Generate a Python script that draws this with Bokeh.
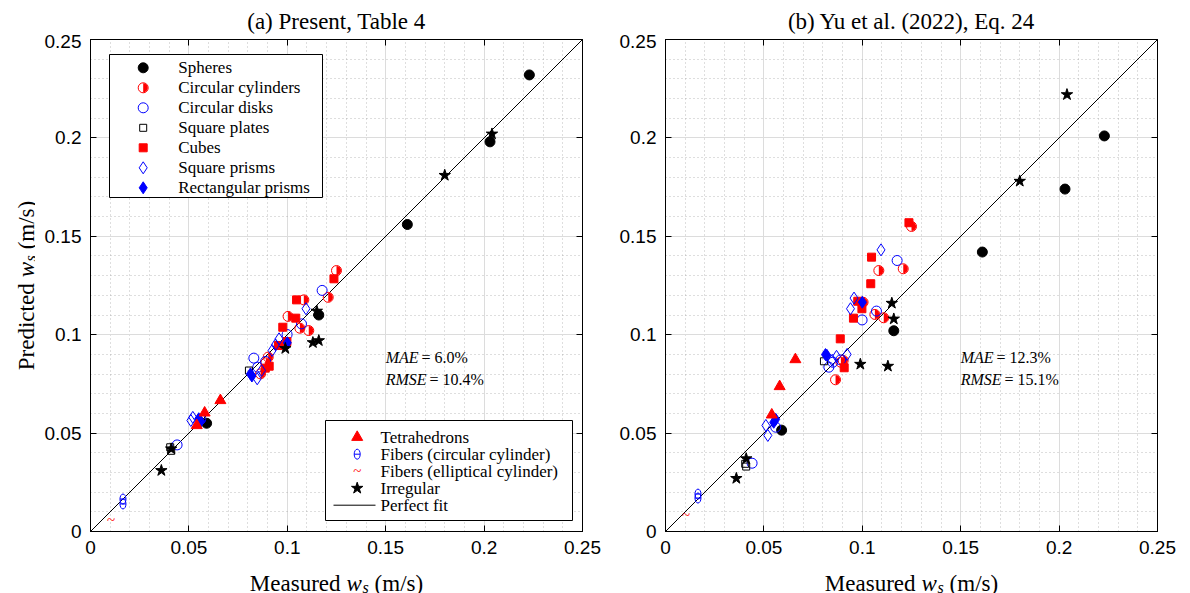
import math
from bokeh.plotting import figure
from bokeh.models import (Label, LinearAxis, SingleIntervalTicker, CustomJSTickFormatter,
                          Range1d, Grid)
from bokeh.layouts import row, column
from bokeh.embed import file_html
from bokeh.resources import INLINE

# ---------------- data (measured x, predicted y) ----------------
sph_x = [0.223, 0.203, 0.161, 0.116, 0.059]
sph_ya = [0.232, 0.198, 0.156, 0.110, 0.055]
sph_yb = [0.201, 0.174, 0.142, 0.102, 0.0515]

cyl_x = [0.125, 0.1208, 0.1109, 0.1084, 0.1064, 0.1004, 0.0903, 0.0891, 0.0864]
cyl_ya = [0.1326, 0.119, 0.1021, 0.1177, 0.1033, 0.1093, 0.0886, 0.0857, 0.0801]
cyl_yb = [0.155, 0.1335, 0.1086, 0.1326, 0.1103, 0.1165, 0.0869, 0.0860, 0.0771]

disk_x = [0.1177, 0.1072, 0.0999, 0.0830, 0.0890, 0.0850, 0.0440, 0.0560]
disk_ya = [0.1225, 0.1055, 0.1001, 0.0881, 0.0864, 0.0835, 0.0440, 0.0570]
disk_yb = [0.1377, 0.1120, 0.1075, 0.0835, 0.0872, 0.0860, 0.0347, 0.0530]

plate_x = [0.0805, 0.0405, 0.0410]
plate_ya = [0.0818, 0.0428, 0.0410]
plate_yb = [0.0865, 0.0344, 0.0330]

cube_x = [0.1237, 0.1047, 0.1043, 0.0998, 0.0977, 0.0955, 0.0888, 0.0908]
cube_ya = [0.1284, 0.1177, 0.1084, 0.0965, 0.1038, 0.0945, 0.0830, 0.0840]
cube_yb = [0.1569, 0.1394, 0.1259, 0.1132, 0.1170, 0.1084, 0.0979, 0.0832]

sqp_x = [0.1095, 0.0958, 0.0940, 0.0923, 0.0869, 0.0847, 0.0510, 0.0520]
sqp_ya = [0.1132, 0.0979, 0.0949, 0.0920, 0.0818, 0.0776, 0.0564, 0.0580]
sqp_yb = [0.1431, 0.1186, 0.1132, 0.0900, 0.0890, 0.0870, 0.0539, 0.0488]

rp_x = [0.1000, 0.0813, 0.0820, 0.0550, 0.0560]
rp_ya = [0.0959, 0.0801, 0.0790, 0.0573, 0.0560]
rp_yb = [0.1165, 0.0899, 0.0895, 0.0555, 0.0570]

tet_x = [0.066, 0.058, 0.054]
tet_ya = [0.0666, 0.0603, 0.0539]
tet_yb = [0.0874, 0.0737, 0.0593]

fc_x = [0.0165, 0.0165]
fc_ya = [0.0165, 0.0140]
fc_yb = [0.0190, 0.0170]

fe_x = [0.0105]
fe_ya = [0.0059]
fe_yb = [0.0085]

irr_x = [0.204, 0.180, 0.115, 0.116, 0.113, 0.099, 0.041, 0.036]
irr_ya = [0.202, 0.181, 0.112, 0.097, 0.096, 0.093, 0.042, 0.031]
irr_yb = [0.222, 0.178, 0.116, 0.108, 0.084, 0.085, 0.037, 0.027]

fit_x = [0.0, 0.25]

titles = ["(a) Present, Table 4", "(b) Yu et al. (2022), Eq. 24"]
mae_vals = ["6.0%", "12.3%"]
rmse_vals = ["10.4%", "15.1%"]

legend1 = [("Spheres", "sph"), ("Circular cylinders", "cyl"), ("Circular disks", "disk"),
           ("Square plates", "plate"), ("Cubes", "cube"), ("Square prisms", "sqp"),
           ("Rectangular prisms", "rp")]
legend2 = [("Tetrahedrons", "tet"), ("Fibers (circular cylinder)", "fc"),
           ("Fibers (elliptical cylinder)", "fe"), ("Irregular", "irr"), ("Perfect fit", "line")]

# ---------------- style ----------------
RED = "#ff0000"
BLUE = "#0000ff"
BLACK = "#000000"
SERIF = "Liberation Serif"
SANS = "Liberation Sans"
FRAME = 492
SC = 0.25 / FRAME  # data units per pixel

H_TITLE = 34
H_XLAB = 32
W_YLAB = 35
B_TOP = 5
B_BOT = 30
P1_LEFT, P1_RIGHT = 55, 20
P2_LEFT, P2_RIGHT = 63, 33
LAB_SIZE = 23

ROMAN = {' ': 250, '(': 333, ')': 333, '/': 278, '%': 833, '.': 250, ',': 250, '=': 564,
         'M': 889, 'P': 556, 'a': 444, 'c': 444, 'd': 500, 'e': 444, 'i': 278, 'm': 778,
         'r': 333, 's': 389, 't': 278, 'u': 500}
ITAL = {'w': 667, 's': 389, 'M': 833, 'A': 611, 'E': 611, 'R': 611, 'S': 500}


def tw(text, italic, size):
    table = ITAL if italic else ROMAN
    return sum(table.get(c, 500) for c in text) * size / 1000.0


def text_fig(fw, fh, bl=0, br=0, bt=0, bb=0):
    f = figure(title=None, frame_width=fw, frame_height=fh, x_range=Range1d(0, fw),
               y_range=Range1d(0, fh), x_axis_type=None, y_axis_type=None,
               output_backend="svg", toolbar_location=None,
               min_border_left=bl, min_border_right=br, min_border_top=bt, min_border_bottom=bb)
    f.outline_line_color = None
    f.background_fill_color = "white"
    f.border_fill_color = "white"
    return f


def rich_label(f, pieces, cx, cy, angle=0.0):
    # pieces: (text, italic, size, lowered_px, gap_before_px)
    total = sum(tw(t, it, sz) + gap for t, it, sz, lw, gap in pieces)
    pos = -total / 2.0
    for t, it, sz, lw, gap in pieces:
        pos += gap
        if angle == 0.0:
            x, y = cx + pos, cy - lw
        else:
            x, y = cx + lw, cy + pos
        f.add_layout(Label(x=x, y=y, text=t, text_font=SERIF,
                           text_font_style="italic" if it else "normal",
                           text_font_size=f"{sz}px", text_baseline="alphabetic",
                           text_align="left", angle=angle, text_color=BLACK))
        pos += tw(t, it, sz)


def label_pieces(word):
    s = LAB_SIZE
    return [(word, False, s, 0, 0), ("w", True, s, 0, 0.26 * s),
            ("s", True, round(s * 0.7), 4, 0.5), ("(m/s)", False, s, 0, 0.26 * s)]


def draw(p, kind, xs, ys):
    if kind == "sph":
        p.scatter(xs, ys, marker="circle", size=10, fill_color=BLACK, line_color=BLACK)
    elif kind == "cyl":
        p.wedge(xs, ys, radius=4.6, radius_units="screen", start_angle=-math.pi / 2,
                end_angle=math.pi / 2, fill_color=RED, line_color=None)
        p.scatter(xs, ys, marker="circle", size=10, fill_color=None, line_color=RED, line_width=1)
    elif kind == "disk":
        p.scatter(xs, ys, marker="circle", size=10, fill_color=None, line_color=BLUE, line_width=1)
    elif kind == "plate":
        p.scatter(xs, ys, marker="square", size=7, fill_color=None, line_color=BLACK, line_width=1)
    elif kind == "cube":
        p.scatter(xs, ys, marker="square", size=8, fill_color=RED, line_color=RED)
    elif kind == "sqp":
        p.scatter(xs, ys, marker="diamond", size=12, fill_color=None, line_color=BLUE, line_width=1)
    elif kind == "rp":
        p.scatter(xs, ys, marker="diamond", size=12, fill_color=BLUE, line_color=BLUE)
    elif kind == "tet":
        p.scatter(xs, ys, marker="triangle", size=11, fill_color=RED, line_color=RED)
    elif kind == "fc":
        p.ellipse(xs, ys, width=6, height=10, width_units="screen", height_units="screen",
                  fill_color=None, line_color=BLUE, line_width=1)
        p.scatter(xs, ys, marker="dash", size=6, line_color=BLUE, line_width=1)
    elif kind == "fe":
        p.text(xs, ys, text=["~"] * len(xs), text_color=RED, text_font_size="15px",
               text_align="center", text_baseline="middle", text_font=SERIF)
    elif kind == "irr":
        p.scatter(xs, ys, marker="star", size=12, fill_color=BLACK, line_color=BLACK)


def legend_box(p, entries, left, top, right, bottom, row0, dy, mx, tx, lx0=0, lx1=0):
    p.quad(left=[left * SC], right=[right * SC], top=[0.25 - top * SC], bottom=[0.25 - bottom * SC],
           fill_color="white", line_color=BLACK, line_width=1)
    for i, (lab, kind) in enumerate(entries):
        yy = 0.25 - (row0 + i * dy) * SC
        if kind == "line":
            p.line([lx0 * SC, lx1 * SC], [yy, yy], line_color=BLACK, line_width=1)
        else:
            draw(p, kind, [mx * SC], [yy])
        p.add_layout(Label(x=tx * SC, y=yy, text=lab, text_font=SERIF, text_font_size="17px",
                           text_baseline="middle", text_align="left", text_color=BLACK))


def make_panel(idx, ys, border_left, border_right):
    p = figure(title=None, frame_width=FRAME, frame_height=FRAME, x_range=Range1d(0, 0.25),
               y_range=Range1d(0, 0.25), output_backend="svg", toolbar_location=None,
               x_axis_type=None, y_axis_type=None,
               min_border_left=border_left, min_border_right=border_right,
               min_border_top=B_TOP, min_border_bottom=B_BOT)
    p.outline_line_color = BLACK
    p.outline_line_alpha = 1.0
    p.outline_line_width = 1
    p.background_fill_color = "white"
    p.border_fill_color = "white"

    fmt = CustomJSTickFormatter(code="var s = tick.toFixed(2); s = s.replace(/0+$/, ''); "
                                     "s = s.replace(/\\.$/, ''); return s;")
    for dim in (0, 1):
        tk = SingleIntervalTicker(interval=0.05, num_minor_ticks=5)
        g = Grid(dimension=dim, ticker=tk, grid_line_color="#dcdcdc", grid_line_width=1,
                 minor_grid_line_color="#a0a0a0", minor_grid_line_dash="1 3",
                 minor_grid_line_alpha=0.7)
        p.add_layout(g, "center")
    for place in ("below", "left", "above", "right"):
        tk = SingleIntervalTicker(interval=0.05, num_minor_ticks=5)
        ax = LinearAxis(ticker=tk, formatter=fmt)
        ax.major_tick_in = 6
        ax.major_tick_out = 0
        ax.minor_tick_line_color = None
        ax.axis_line_color = BLACK
        ax.major_tick_line_color = BLACK
        ax.major_label_text_font = SANS
        if place in ("below", "left"):
            ax.major_label_text_font_size = "19px"
            ax.major_label_standoff = 5
            ax.major_label_text_color = BLACK
        else:
            ax.major_label_text_font_size = "1px"
            ax.major_label_text_alpha = 0
            ax.major_label_standoff = 0
        p.add_layout(ax, place)

    p.line(fit_x, fit_x, line_color=BLACK, line_width=1)

    draw(p, "sph", sph_x, ys["sph"])
    draw(p, "cyl", cyl_x, ys["cyl"])
    draw(p, "disk", disk_x, ys["disk"])
    draw(p, "plate", plate_x, ys["plate"])
    draw(p, "cube", cube_x, ys["cube"])
    draw(p, "sqp", sqp_x, ys["sqp"])
    draw(p, "rp", rp_x, ys["rp"])
    draw(p, "tet", tet_x, ys["tet"])
    draw(p, "fc", fc_x, ys["fc"])
    draw(p, "fe", fe_x, ys["fe"])
    draw(p, "irr", irr_x, ys["irr"])

    # error annotations
    for j, (nm, val) in enumerate((("MAE", mae_vals[idx]), ("RMSE", rmse_vals[idx]))):
        yy = 0.0885 - j * 0.0112
        p.add_layout(Label(x=0.15, y=yy, text=nm, text_font=SERIF, text_font_style="italic",
                           text_font_size="16px", text_baseline="middle", text_color=BLACK))
        p.add_layout(Label(x=0.15, y=yy, x_offset=tw(nm, True, 16) + 3, text="= " + val,
                           text_font=SERIF, text_font_size="16px", text_baseline="middle",
                           text_color=BLACK))

    if idx == 0:
        legend_box(p, legend1, 19, 15, 232, 158, 28.3, 20.0, 52.7, 87.7)
        legend_box(p, legend2, 235, 381, 482, 481, 397.7, 17.0, 266.7, 290, 243, 285)
    return p


def panel_column(idx, ys, bl, br):
    p = make_panel(idx, ys, bl, br)
    t = text_fig(FRAME, H_TITLE, bl, br)
    t.add_layout(Label(x=FRAME / 2, y=13.5, text=titles[idx], text_font=SERIF,
                       text_font_size=f"{LAB_SIZE}px", text_align="center",
                       text_baseline="alphabetic", text_color=BLACK))
    xl = text_fig(FRAME, H_XLAB, bl, br)
    rich_label(xl, label_pieces("Measured"), FRAME / 2, 10.5)
    return column(t, p, xl, spacing=0)


ys_a = dict(sph=sph_ya, cyl=cyl_ya, disk=disk_ya, plate=plate_ya, cube=cube_ya, sqp=sqp_ya,
            rp=rp_ya, tet=tet_ya, fc=fc_ya, fe=fe_ya, irr=irr_ya)
ys_b = dict(sph=sph_yb, cyl=cyl_yb, disk=disk_yb, plate=plate_yb, cube=cube_yb, sqp=sqp_yb,
            rp=rp_yb, tet=tet_yb, fc=fc_yb, fe=fe_yb, irr=irr_yb)

yl = text_fig(W_YLAB, FRAME, 0, 0, H_TITLE + B_TOP, B_BOT + H_XLAB)
rich_label(yl, label_pieces("Predicted"), 26, FRAME / 2, angle=math.pi / 2)

col1 = panel_column(0, ys_a, P1_LEFT, P1_RIGHT)
col2 = panel_column(1, ys_b, P2_LEFT, P2_RIGHT)
layout = row(yl, col1, col2, spacing=0)

open("out.html", "w").write(file_html(layout, INLINE))
